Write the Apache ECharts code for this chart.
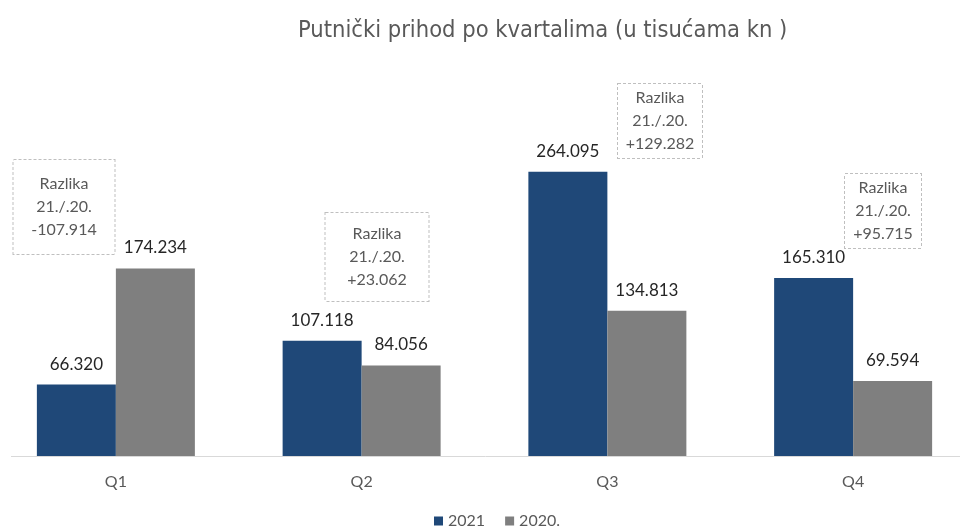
<!DOCTYPE html>
<html>
<head>
<meta charset="utf-8">
<script src="https://cdn.jsdelivr.net/npm/echarts@6/dist/echarts.min.js"></script>
<style>
  html, body { margin: 0; padding: 0; background: #fff; }
  #chart { width: 963px; height: 530px; }
</style>
</head>
<body>
<div id="chart"></div>
<script>
  // podaci
  var kvartali = ['Q1', 'Q2', 'Q3', 'Q4'];
  var prihod2021 = [66320, 107118, 264095, 165310];
  var prihod2020 = [174234, 84056, 134813, 69594];
  var razlika = [-107914, 23062, 129282, 95715];

  // okviri s razlikom (centar i velicina u pikselima)
  var okviri = [
    {x: 64, y: 207, w: 103, h: 96},
    {x: 377, y: 257, w: 105, h: 90},
    {x: 660, y: 121, w: 86, h: 76},
    {x: 883, y: 211, w: 78, h: 76}
  ];

  function fmt(v) {
    var s = String(Math.abs(v)).replace(/\B(?=(\d{3})+(?!\d))/g, '.');
    return v < 0 ? '-' + s : s;
  }

  var font = 'Lato, "Open Sans", sans-serif';

  var chart = echarts.init(document.getElementById('chart'));

  var markData = razlika.map(function (d, i) {
    var o = okviri[i];
    var lh = 23;
    var vpad = (o.h - 2 - lh * 3) / 2;
    return {
      x: o.x,
      y: o.y,
      value: d,
      label: {
        width: o.w - 2,
        padding: [vpad, 0, vpad, 0]
      }
    };
  });

  chart.setOption({
    animation: false,
    title: {
      text: 'Putnički prihod po kvartalima (u tisućama kn )',
      left: 293,
      top: 14,
      textStyle: {
        fontFamily: '"Liberation Sans Narrow", "DejaVu Sans Condensed", sans-serif',
        fontWeight: 'normal',
        fontSize: 23.5,
        color: '#595959'
      }
    },
    legend: {
      bottom: -4,
      left: 429,
      itemWidth: 9,
      itemHeight: 9,
      itemGap: 20,
      icon: 'rect',
      textStyle: {fontFamily: font, fontSize: 16, color: '#595959'},
      data: ['2021', '2020.']
    },
    grid: {
      left: -7,
      right: -13,
      top: 133,
      bottom: 74,
      outerBoundsMode: 'none',
      containLabel: false
    },
    xAxis: {
      type: 'category',
      data: kvartali,
      axisLine: {show: false},
      axisTick: {show: false},
      axisLabel: {
        margin: 18,
        fontFamily: font,
        fontSize: 16,
        color: '#595959'
      }
    },
    yAxis: {
      type: 'value',
      min: 0,
      max: 300000,
      show: false,
      splitLine: {show: false}
    },
    series: [
      {
        name: '2021',
        type: 'bar',
        barWidth: 79,
        barGap: '0%',
        data: prihod2021,
        itemStyle: {color: '#1F4878'},
        label: {
          show: true,
          position: 'top',
          distance: 12,
          fontFamily: font,
          fontSize: 17,
          color: '#262626',
          formatter: function (p) { return fmt(p.value); }
        },
        markPoint: {
          symbol: 'circle',
          symbolSize: 1,
          itemStyle: {color: 'rgba(0,0,0,0)'},
          label: {
            show: true,
            position: 'inside',
            fontFamily: font,
            fontSize: 16,
            lineHeight: 23,
            color: '#595959',
            align: 'center',
            borderColor: '#BFBFBF',
            borderWidth: 1,
            borderType: [3, 2],
            backgroundColor: '#fff',
            formatter: function (p) {
              var v = p.value;
              return 'Razlika\n21./.20.\n' + (v > 0 ? '+' : '') + fmt(v);
            }
          },
          data: markData
        }
      },
      {
        name: '2020.',
        type: 'bar',
        barWidth: 79,
        data: prihod2020,
        itemStyle: {color: '#7F7F7F'},
        label: {
          show: true,
          position: 'top',
          distance: 12,
          fontFamily: font,
          fontSize: 17,
          color: '#262626',
          formatter: function (p) { return fmt(p.value); }
        }
      }
    ],
    graphic: [
      {
        type: 'line',
        shape: {x1: 11, y1: 456.5, x2: 960, y2: 456.5},
        style: {stroke: '#D9D9D9', lineWidth: 1},
        z: 10
      }
    ]
  });
</script>
</body>
</html>
